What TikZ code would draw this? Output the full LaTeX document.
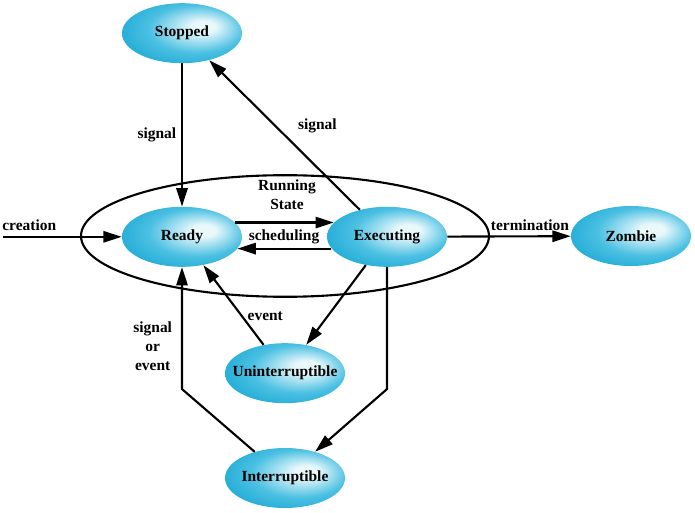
\documentclass[tikz,border=0pt]{standalone}
\usepackage{fontspec}
\setmainfont{Liberation Serif}
\usetikzlibrary{arrows.meta}
\usetikzlibrary{shapes.geometric}

\definecolor{cellblue}{RGB}{0,155,205}
\definecolor{cellmid}{RGB}{75,192,226}
\definecolor{cellhi}{RGB}{232,248,251}
\pgfdeclareradialshading{cellglow}{\pgfpoint{10bp}{6bp}}{color(0bp)=(cellhi); color(5bp)=(cellhi); color(20bp)=(cellmid); color(40bp)=(cellblue); color(50bp)=(cellblue)}

\tikzset{
	cell/.style={ellipse, shading=cellglow, minimum width=3cm, minimum height=1.5cm, inner xsep=-10pt, inner ysep=0pt},
	arr/.style={-{Triangle[length=13pt,width=8pt]}, line width=1.5pt}
}

\begin{document}
\begin{tikzpicture}[font=\fontsize{11}{13.5}\selectfont\bfseries]
	\useasboundingbox (0, 0) rectangle (17.375, -12.825);

	% running state
	\draw[line width=1.5pt] (7.125, -5.9) ellipse [x radius=5.1, y radius=1.52];
	\node[align=center] (runlbl) at (7.175, -4.87) {Running\\State};
	\node (schedlbl) at (7.1, -5.92) {scheduling};

	\node[cell] (stopped) at (4.55, -0.83) {Stopped};
	\node[cell] (ready) at (4.55, -5.92) {Ready};
	\node[cell] (exec) at (9.675, -5.92) {Executing};
	\node[cell] (zombie) at (15.775, -5.9) {Zombie};
	\node[cell] (unint) at (7.125, -9.33) {Uninterruptible};
	\node[cell] (intr) at (7.125, -11.95) {Interruptible};

	\coordinate (birth) at (0.08, -5.92);
	\draw[arr] (birth) -- node[pos=0.22, above] {creation} (ready);
	\draw[arr] (stopped) -- node[midway, left] {signal} (ready);
	\draw[arr] (exec) -- node[pos=0.56, right=12pt] {signal} (stopped);
	\draw[arr] (ready.15) -- (exec.165);
	\draw[arr] (exec.192) -- (ready.-12);
	\draw[arr] (exec) -- node[pos=0.67, above] {termination} (zombie);
	\draw[arr] (exec) -- (unint);
	\draw[arr] (unint) -- node[pos=0.36, right] {event} (ready);
	\draw[arr] (exec.south) -- ++(0, -3.05) -- (intr);
	\draw[arr] (intr) -- ([yshift=-3.05cm]ready.south) -- node[pos=0.35, left=3pt, align=center] {signal\\or\\event} (ready.south);
\end{tikzpicture}
\end{document}
